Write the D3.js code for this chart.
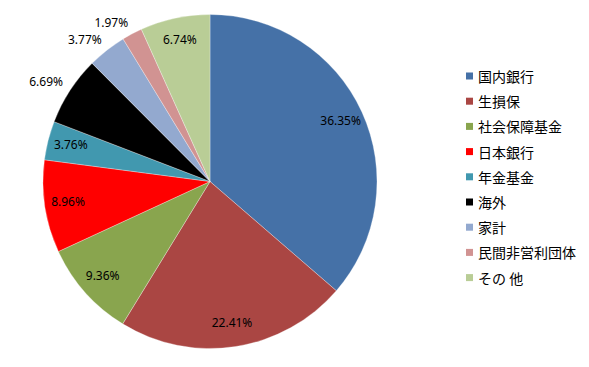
<!DOCTYPE html>
<html>
<head>
<meta charset="utf-8">
<script src="https://cdn.jsdelivr.net/npm/d3@7"></script>
<style>
  body { margin: 0; background: #fff; }
  svg text { fill: #000; }
</style>
</head>
<body>
<svg id="chart" width="589" height="367"></svg>
<script>
// holders of the debt, share in percent
const categories = ["国内銀行", "生損保", "社会保障基金", "日本銀行", "年金基金", "海外", "家計", "民間非営利団体", "その 他"];
const shares = [36.35, 22.41, 9.36, 8.96, 3.76, 6.69, 3.77, 1.97, 6.74];
const colors = ["#4571A7", "#AA4643", "#89A54E", "#FF0000", "#4198AF", "#000000", "#93A9CF", "#D19392", "#B9CD96"];
// slices whose label Excel pushed outside the pie
const outsideLabels = ["海外", "家計", "民間非営利団体"];

const svg = d3.select("#chart");
const cx = 210, cy = 181.5, r = 167;

const data = categories.map((c, i) => ({ name: c, value: shares[i], color: colors[i] }));

const pie = d3.pie().sort(null).value(d => d.value);
const arc = d3.arc().innerRadius(0).outerRadius(r);
const arcs = pie(data);

const g = svg.append("g").attr("transform", "translate(" + cx + "," + cy + ")");

g.selectAll(".slice").data(arcs)
  .enter()
  .append("path")
  .attr("class", "slice")
  .attr("d", arc)
  .attr("fill", d => d.data.color)
  .attr("stroke", "#fff")
  .attr("stroke-width", 0.5)
  .attr("stroke-opacity", 0.6);

const inArc = d3.arc().innerRadius(r * 0.86).outerRadius(r * 0.86);

g.selectAll(".lbl").data(arcs)
  .enter()
  .append("text")
  .attr("class", "lbl")
  .attr("font-family", "'Noto Sans', sans-serif")
  .attr("font-size", 12)
  .attr("dominant-baseline", "middle")
  .each(function (d) {
    const t = d3.select(this);
    const mid = (d.startAngle + d.endAngle) / 2;
    if (outsideLabels.includes(d.data.name)) {
      const rr = r * 1.05;
      t.attr("x", rr * Math.sin(mid))
        .attr("y", -rr * Math.cos(mid) - 3)
        .attr("text-anchor", "end");
    } else {
      const c = inArc.centroid(d);
      t.attr("x", c[0]).attr("y", c[1]).attr("text-anchor", "middle");
    }
  })
  .text(d => d.value.toFixed(2) + "%");

// legend
const legend = svg.append("g").attr("transform", "translate(466,76)");
const step = 25.2;

const items = legend.selectAll(".item").data(data)
  .enter()
  .append("g")
  .attr("class", "item")
  .attr("transform", (d, i) => "translate(0," + (i * step) + ")");

items.append("rect")
  .attr("x", 0)
  .attr("y", -3.5)
  .attr("width", 7)
  .attr("height", 7)
  .attr("fill", d => d.color);

items.append("text")
  .attr("x", 12)
  .attr("y", 0)
  .attr("dominant-baseline", "central")
  .attr("font-family", "'Noto Sans CJK JP', sans-serif")
  .attr("font-size", 14)
  .text(d => d.name);
</script>
</body>
</html>
